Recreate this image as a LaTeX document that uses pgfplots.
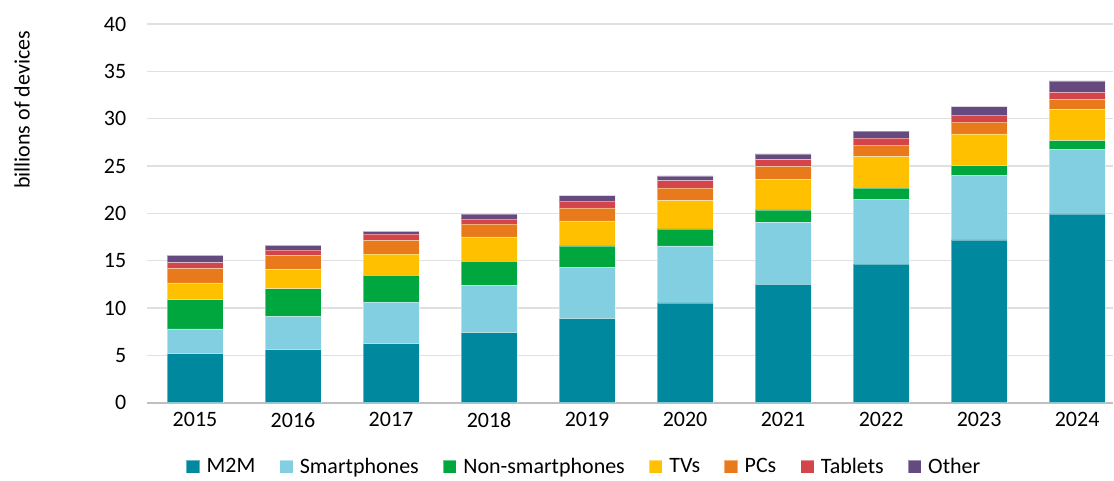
\documentclass[border=0pt]{standalone}
\usepackage{fontspec}
\setmainfont{Carlito}
\usepackage{pgfplots}
\usepackage{pgfplotstable}
\pgfplotsset{compat=1.18}
\definecolor{cM2M}{HTML}{00889E}
\definecolor{cSmart}{HTML}{82CFE2}
\definecolor{cNon}{HTML}{00A73F}
\definecolor{cTV}{HTML}{FFC000}
\definecolor{cPC}{HTML}{E97A1B}
\definecolor{cTab}{HTML}{D3454A}
\definecolor{cOther}{HTML}{644A7F}
\pgfplotstableread{
x M2M Smart Non TV PC Tab Other
0 5.17 2.61 3.09 1.79 1.52 0.60 0.77
1 5.59 3.49 2.95 2.01 1.51 0.55 0.50
2 6.23 4.39 2.82 2.25 1.44 0.67 0.28
3 7.39 4.99 2.54 2.60 1.34 0.56 0.49
4 8.87 5.38 2.32 2.64 1.37 0.74 0.56
5 10.55 6.02 1.79 2.99 1.34 0.77 0.50
6 12.50 6.54 1.31 3.23 1.38 0.70 0.61
7 14.62 6.83 1.20 3.33 1.21 0.74 0.74
8 17.20 6.84 0.99 3.36 1.24 0.74 0.89
9 19.93 6.80 0.95 3.29 1.07 0.74 1.20
}\data
\newcommand{\f}{\fontsize{16.5pt}{19pt}\selectfont}
\begin{document}
\begin{tikzpicture}
\begin{axis}[
  name=ax,
  at={(0,0)}, anchor=south west,
  scale only axis,
  width=725.25pt, height=284.25pt,
  ybar stacked, bar width=42pt,
  xmin=-0.491, xmax=9.366,
  ymin=0, ymax=40,
  ytick={0,5,...,40},
  xtick={0,...,9},
  xticklabels={2015,2016,2017,2018,2019,2020,2021,2022,2023,2024},
  tick style={draw=none},
  axis y line*=left,
  y axis line style={draw=none},
  axis x line*=bottom,
  x axis line style={draw=black!25, line width=1.5pt, -},
  ymajorgrids,
  grid style={draw=black!12, line width=0.9pt},
  tick label style={font=\f},
  yticklabel style={xshift=-12pt},
  xticklabel style={yshift=-4pt},
  /pgf/number format/assume math mode=true,
  legend columns=-1,
  legend style={draw=none, font=\f, at={(0.453,-0.169)}, anchor=center,
    /tikz/every odd column/.append style={column sep=3pt},
    /tikz/every even column/.append style={column sep=16pt}},
  legend image code/.code={\fill[#1] (0pt,-5pt) rectangle (10pt,5pt);},
  every axis plot/.append style={draw=white, draw opacity=0.4, line width=0.4pt},
]
\addplot[fill=cM2M] table[x=x,y=M2M]{\data};
\addplot[fill=cSmart] table[x=x,y=Smart]{\data};
\addplot[fill=cNon] table[x=x,y=Non]{\data};
\addplot[fill=cTV] table[x=x,y=TV]{\data};
\addplot[fill=cPC] table[x=x,y=PC]{\data};
\addplot[fill=cTab] table[x=x,y=Tab]{\data};
\addplot[fill=cOther] table[x=x,y=Other]{\data};
\legend{M2M,Smartphones,Non-smartphones,TVs,PCs,Tablets,Other}
\end{axis}
\node[rotate=90, font=\f] at (-93.75pt,219.75pt) {billions of devices};
\path[use as bounding box] (-110.25pt,-55.5pt) rectangle (725.25pt,302.25pt);
\end{tikzpicture}
\end{document}
